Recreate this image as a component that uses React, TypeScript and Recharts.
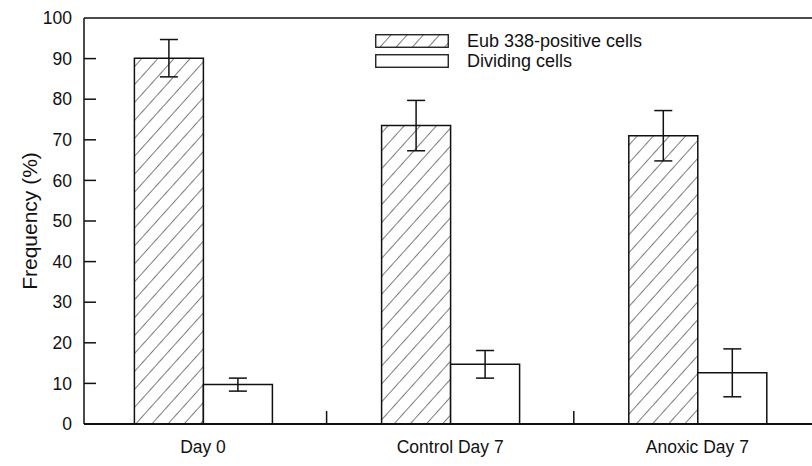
import {
  BarChart,
  Bar,
  XAxis,
  YAxis,
  ErrorBar,
  ReferenceLine,
  Legend,
} from "recharts";

const categories = ["Day 0", "Control Day 7", "Anoxic Day 7"];
const eubPositive = [90.1, 73.5, 71.0];
const eubError = [4.6, 6.2, 6.2];
const dividing = [9.7, 14.7, 12.6];
const dividingError = [1.6, 3.4, 5.9];
const yTicks = [0, 10, 20, 30, 40, 50, 60, 70, 80, 90, 100];

const data = categories.map((name, i) => ({
  name,
  eub: eubPositive[i],
  eubErr: eubError[i],
  div: dividing[i],
  divErr: dividingError[i],
}));

const font = "'Liberation Sans', Arial, Helvetica, sans-serif";
const ink = "#111";
const xPad = { left: -4.6, right: 0 };
const yMargin = 12;
const xMargin = 17;
const innerTick = 12;

function HatchPattern({ id }: { id: string }) {
  return (
    <pattern
      id={id}
      patternUnits="userSpaceOnUse"
      width={12}
      height={12}
      patternTransform="rotate(42)"
    >
      <rect width={12} height={12} fill="#fff" />
      <line x1={0} y1={0} x2={0} y2={12} stroke={ink} strokeWidth={1.1} />
    </pattern>
  );
}

// label plus an inward tick mark (tick sits on the axis line, tickMargin to the right)
function YTick(props: any) {
  const { x, y, payload } = props;
  const v = payload.value;
  return (
    <g>
      <text
        x={x}
        y={y}
        dy="0.355em"
        textAnchor="end"
        fontSize={17.5}
        fontFamily={font}
        fill={ink}
      >
        {v}
      </text>
      {v > 0 && v < 100 && (
        <line
          x1={x + yMargin}
          x2={x + yMargin + innerTick}
          y1={y}
          y2={y}
          stroke={ink}
          strokeWidth={1.5}
        />
      )}
    </g>
  );
}

// category label plus an inward tick at the right edge of the band
function XTick(props: any) {
  const { x, y, payload, index, visibleTicksCount } = props;
  const half = payload.offset ?? 0;
  const axisY = y - xMargin;
  return (
    <g>
      <text
        x={x}
        y={y}
        dy="0.71em"
        textAnchor="middle"
        fontSize={17.5}
        fontFamily={font}
        fill={ink}
      >
        {payload.value}
      </text>
      {index < visibleTicksCount - 1 && half > 0 && (
        <line
          x1={x + half}
          x2={x + half}
          y1={axisY}
          y2={axisY - 13}
          stroke={ink}
          strokeWidth={1.5}
        />
      )}
    </g>
  );
}

function LegendBox({ hatched }: { hatched: boolean }) {
  return (
    <svg width={75} height={15} style={{ display: "block" }}>
      <defs>
        <HatchPattern id="legendHatch" />
      </defs>
      <rect
        x={0.75}
        y={0.75}
        width={72.5}
        height={12.5}
        fill={hatched ? "url(#legendHatch)" : "#fff"}
        stroke={ink}
        strokeWidth={1.3}
      />
    </svg>
  );
}

function renderLegend() {
  const rows = [
    { label: "Eub 338-positive cells", hatched: true },
    { label: "Dividing cells", hatched: false },
  ];
  return (
    <div style={{ fontFamily: font, fontSize: 18, color: ink }}>
      {rows.map((r) => (
        <div
          key={r.label}
          style={{ display: "flex", alignItems: "center", height: 20.5 }}
        >
          <LegendBox hatched={r.hatched} />
          <span style={{ marginLeft: 17 }}>{r.label}</span>
        </div>
      ))}
    </div>
  );
}

export default function App() {
  return (
    <div
      style={{
        position: "absolute",
        left: 0,
        top: 0,
        width: 812,
        height: 466,
        overflow: "hidden",
        background: "#fff",
      }}
    >
      <BarChart
        width={830}
        height={466}
        data={data}
        margin={{ top: 18, right: 9, bottom: 0, left: 0 }}
        barGap={0}
        barSize={69}
      >
        <defs>
          <HatchPattern id="barHatch" />
        </defs>
        <XAxis
          dataKey="name"
          height={42}
          padding={xPad}
          tickLine={false}
          tickSize={0}
          tickMargin={xMargin}
          axisLine={{ stroke: ink, strokeWidth: 2 }}
          tick={<XTick />}
        />
        <YAxis
          domain={[0, 100]}
          ticks={yTicks}
          width={84}
          tickLine={false}
          tickSize={0}
          tickMargin={yMargin}
          axisLine={{ stroke: ink, strokeWidth: 1.5 }}
          tick={<YTick />}
          label={{
            value: "Frequency (%)",
            angle: -90,
            position: "center",
            dx: -12,
            style: { fontSize: 21, fill: ink, fontFamily: font },
          }}
        />
        <ReferenceLine y={100} stroke={ink} strokeWidth={1.5} />
        <Legend
          layout="vertical"
          align="center"
          verticalAlign="middle"
          content={renderLegend}
          wrapperStyle={{ left: 375, top: 31, width: "auto" }}
        />
        <Bar
          dataKey="eub"
          name="Eub 338-positive cells"
          fill="url(#barHatch)"
          stroke={ink}
          strokeWidth={1.5}
          isAnimationActive={false}
        >
          <ErrorBar dataKey="eubErr" width={9} stroke={ink} strokeWidth={1.5} />
        </Bar>
        <Bar
          dataKey="div"
          name="Dividing cells"
          fill="#fff"
          stroke={ink}
          strokeWidth={1.5}
          isAnimationActive={false}
        >
          <ErrorBar dataKey="divErr" width={9} stroke={ink} strokeWidth={1.5} />
        </Bar>
      </BarChart>
    </div>
  );
}
